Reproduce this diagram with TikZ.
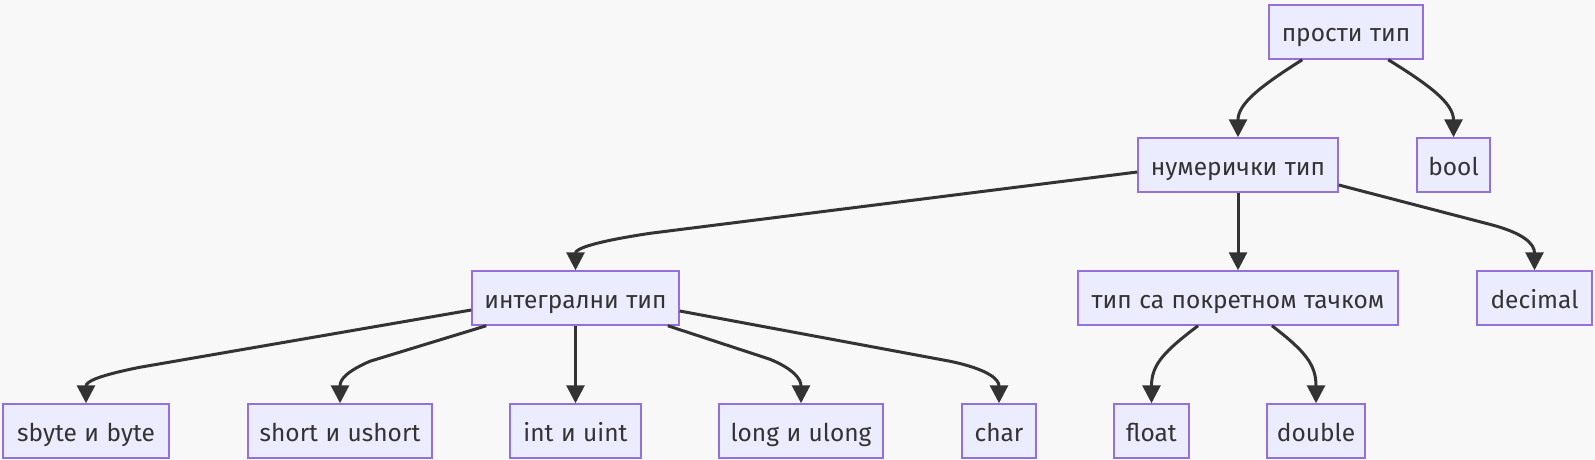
\documentclass[tikz,border=0pt]{standalone}
\usepackage{fontspec}
\setmainfont{Fira Sans}[WordSpace=1.15]
\usetikzlibrary{arrows.meta,calc}
\definecolor{nodefill}{HTML}{ECECFF}
\definecolor{nodeborder}{HTML}{9370DB}
\definecolor{edgecol}{HTML}{333333}
\definecolor{bgcol}{HTML}{F8F8F8}
\begin{document}
\begin{tikzpicture}[x=1pt,y=-1pt,
  box/.style={draw=nodeborder, fill=nodefill, line width=1.5pt, minimum height=54pt,
    inner sep=0pt, text height=20pt, text depth=0pt, text=edgecol, font=\fontsize{24.5}{29}\selectfont},
  edge/.style={draw=edgecol, line width=3pt, -{Triangle[length=18pt,width=18pt]}}]
\fill[bgcol] (0,0) rectangle (1595,460);
\useasboundingbox (0,0) rectangle (1595,460);
% row 1
\node[box, minimum width=154pt] (prosti) at (1346,32) {прости тип};
% row 2
\node[box, minimum width=200pt] (num) at (1238,165) {нумерички тип};
\node[box, minimum width=73pt] (bool) at (1453.5,165) {bool};
% row 3
\node[box, minimum width=207pt] (integ) at (575.5,298) {интегрални тип};
\node[box, minimum width=320pt] (tipsa) at (1238,298) {тип са покретном тачком};
\node[box, minimum width=115pt] (decimal) at (1534.5,298) {decimal};
% row 4
\node[box, minimum width=166pt] (sbyte) at (86,431) {sbyte и byte};
\node[box, minimum width=184pt] (short) at (340,431) {short и ushort};
\node[box, minimum width=131pt] (int) at (575.5,431) {int и uint};
\node[box, minimum width=164pt] (long) at (801,431) {long и ulong};
\node[box, minimum width=74pt] (char) at (999,431) {char};
\node[box, minimum width=75pt] (float) at (1151.5,431) {float};
\node[box, minimum width=98pt] (double) at (1316,431) {double};
% edges
\draw[edge] ($(prosti.south west)+(34,0)$) .. controls ($(num.north)+(24,-52)$) and ($(num.north)+(0,-34)$) .. (num.north);
\draw[edge] ($(prosti.south west)+(120,0)$) .. controls ($(bool.north)+(-24,-52)$) and ($(bool.north)+(0,-34)$) .. (bool.north);
\draw[edge] ($(num.west)+(0,7)$) -- ($(integ.north)+(75,-37)$) .. controls ($(integ.north)+(15,-28)$) and ($(integ.north)+(0,-21)$) .. (integ.north);
\draw[edge] (num.south) -- (tipsa.north);
\draw[edge] ($(num.east)+(0,20)$) -- ($(decimal.north)+(-45,-46)$) .. controls ($(decimal.north)+(-10,-37)$) and ($(decimal.north)+(0,-26)$) .. (decimal.north);
\draw[edge] ($(integ.west)+(0,12)$) -- ($(sbyte.north)+(54,-36)$) .. controls ($(sbyte.north)+(14,-28)$) and ($(sbyte.north)+(0,-22)$) .. (sbyte.north);
\draw[edge] ($(integ.south west)+(15,0)$) -- ($(short.north)+(30,-42)$) .. controls ($(short.north)+(7,-32)$) and ($(short.north)+(0,-24)$) .. (short.north);
\draw[edge] (integ.south) -- (int.north);
\draw[edge] ($(integ.south east)+(-12,0)$) -- ($(long.north)+(-31,-44)$) .. controls ($(long.north)+(-7,-34)$) and ($(long.north)+(0,-24)$) .. (long.north);
\draw[edge] ($(integ.east)+(0,13)$) -- ($(char.north)+(-49,-42)$) .. controls ($(char.north)+(-11,-34)$) and ($(char.north)+(0,-24)$) .. (char.north);
\draw[edge] ($(tipsa.south)+(-40,0)$) .. controls ($(float.north)+(13,-52)$) and ($(float.north)+(0,-39)$) .. (float.north);
\draw[edge] ($(tipsa.south)+(34,0)$) .. controls ($(double.north)+(-11,-52)$) and ($(double.north)+(0,-39)$) .. (double.north);
\end{tikzpicture}
\end{document}
